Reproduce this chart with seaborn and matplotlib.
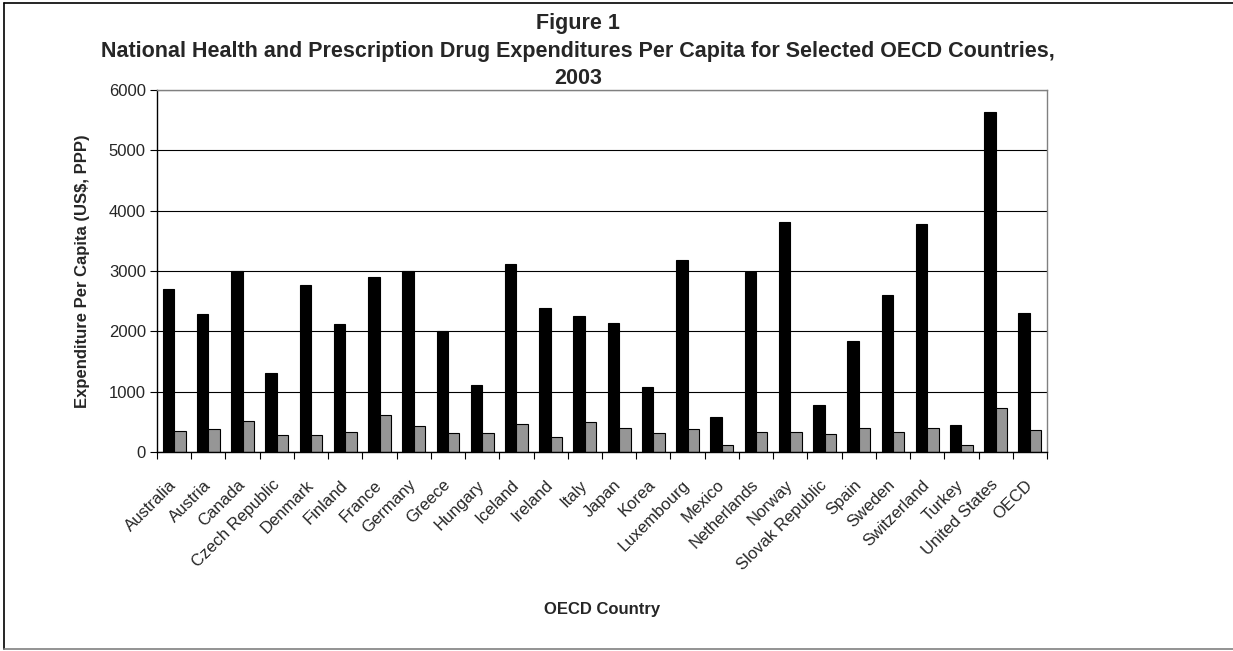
import numpy as np
import pandas as pd
import seaborn as sns
import matplotlib.pyplot as plt
from matplotlib.lines import Line2D

# Data (US$, PPP, 2003)
countries = ["Australia", "Austria", "Canada", "Czech Republic", "Denmark", "Finland",
             "France", "Germany", "Greece", "Hungary", "Iceland", "Ireland", "Italy",
             "Japan", "Korea", "Luxembourg", "Mexico", "Netherlands", "Norway",
             "Slovak Republic", "Spain", "Sweden", "Switzerland", "Turkey",
             "United States", "OECD"]
health = [2699, 2280, 3003, 1302, 2763, 2118, 2903, 2996, 2011, 1115, 3115, 2386, 2258,
          2139, 1074, 3190, 583, 2976, 3807, 777, 1835, 2594, 3781, 452, 5635, 2307]
drugs = [354, 378, 509, 276, 276, 335, 606, 436, 312, 312, 457, 253, 494,
         397, 312, 376, 117, 338, 338, 296, 397, 338, 397, 118, 728, 357]
series = ["Total Health Expenditure", "Prescription Drug Expenditure"]
yticks = [0, 1000, 2000, 3000, 4000, 5000, 6000]

df = pd.DataFrame({
    "country": countries * 2,
    "series": [series[0]] * len(countries) + [series[1]] * len(countries),
    "value": health + drugs,
})

sns.set_style("white")
plt.rcParams['font.family'] = ['Liberation Sans', 'DejaVu Sans']

fig = plt.figure(figsize=(12.33, 6.51), dpi=100)
ax = fig.add_axes([157 / 1233, 1 - 452 / 651, 890 / 1233, 362 / 651])

sns.barplot(data=df, x="country", y="value", hue="series", order=countries,
            hue_order=series, palette=["#000000", "#969696"], width=0.667,
            edgecolor="black", linewidth=0.8, legend=False, ax=ax)

ax.set_ylim(0, 6000)
ax.set_xlim(-0.5, len(countries) - 0.5)
ax.set_yticks(yticks)
ax.set_yticklabels([str(v) for v in yticks], fontsize=12)
ax.yaxis.grid(True, color="black", linewidth=0.8)
ax.set_axisbelow(True)

# category ticks at boundaries, excel style
ax.set_xticks(np.arange(len(countries)))
ax.set_xticklabels(countries, rotation=45, ha="right", va="center",
                   rotation_mode="anchor", fontsize=12)
ax.set_xticks(np.arange(len(countries) + 1) - 0.5, minor=True)
ax.tick_params(axis="x", which="major", length=0, pad=22)
ax.tick_params(axis="x", which="minor", length=5, width=0.8, color="black",
               direction="out", bottom=True)
ax.tick_params(axis="y", length=5, width=0.8, color="black", direction="out",
               left=True, pad=3)

for side in ["left", "bottom"]:
    ax.spines[side].set_color("black")
    ax.spines[side].set_linewidth(1.0)
for side in ["top", "right"]:
    ax.spines[side].set_color("#808080")
    ax.spines[side].set_linewidth(1.0)

ax.set_ylabel("Expenditure Per Capita (US$, PPP)", fontsize=12, fontweight="bold")
ax.yaxis.set_label_coords((90 - 157) / 890, 0.5)
ax.set_xlabel("OECD Country", fontsize=12, fontweight="bold")
ax.xaxis.set_label_coords(0.5, (452 - 602) / 362)

# three-line title
fig.text(578 / 1233, 1 - 24 / 651, "Figure 1", ha="center", va="center",
         fontsize=15.5, fontweight="bold")
fig.text(578 / 1233, 1 - 51 / 651,
         "National Health and Prescription Drug Expenditures Per Capita for Selected OECD Countries,",
         ha="center", va="center", fontsize=15.5, fontweight="bold")
fig.text(578 / 1233, 1 - 78 / 651, "2003", ha="center", va="center",
         fontsize=15.5, fontweight="bold")

# outer chart border
fig.add_artist(Line2D([4 / 1233, 1], [1 - 2.5 / 651] * 2, color="black", linewidth=1.2))
fig.add_artist(Line2D([4 / 1233] * 2, [1 - 2.5 / 651, 1 - 649 / 651], color="black", linewidth=1.2))
fig.add_artist(Line2D([4 / 1233, 1], [1 - 649 / 651] * 2, color="#808080", linewidth=1.2))

fig.savefig("out.png", dpi=100)
